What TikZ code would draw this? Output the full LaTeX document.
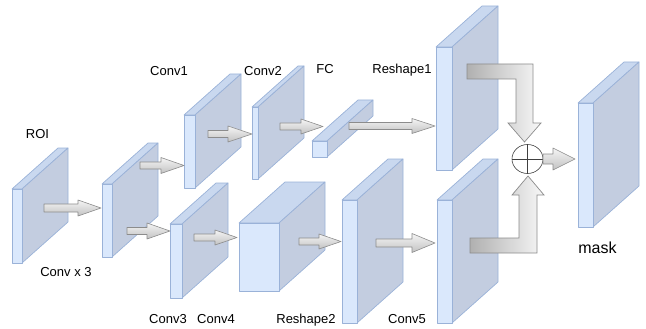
\documentclass[tikz,border=0pt]{standalone}
\usepackage{fontspec}
\setmainfont{Liberation Sans}
\usetikzlibrary{calc}

\definecolor{frontc}{HTML}{DAE8FC}
\definecolor{topc}{HTML}{C9D8EF}
\definecolor{sidec}{HTML}{C3CDE0}
\definecolor{edgec}{HTML}{9AB2D8}
\definecolor{arrowedge}{HTML}{8C8C8C}

\tikzset{
  face/.style={draw=edgec, line width=0.7pt, line join=round},
  smallarrow/.style={draw=arrowedge, line width=0.6pt, line join=round,
    top color=gray!8, bottom color=gray!48},
  bigarrow/.style={draw=arrowedge, line width=0.7pt, line join=miter,
    left color=gray!62, right color=gray!6},
  lbl/.style={anchor=base, inner sep=0pt, font=\fontsize{13}{15}\selectfont},
}

% cuboid: front face (x1,y1)-(x2,y2), depth goes 46 right and 41 up
\newcommand\cuboid[4]{%
  \filldraw[face, fill=topc] (#1,#2) -- (#1+46,#2-41) -- (#3+46,#2-41) -- (#3,#2) -- cycle;
  \filldraw[face, fill=sidec] (#3,#2) -- (#3+46,#2-41) -- (#3+46,#4-41) -- (#3,#4) -- cycle;
  \filldraw[face, fill=frontc] (#1,#2) rectangle (#3,#4);
}

% flat block arrow: tail x, head start x, tip x, centre y, shaft half, head half
\newcommand\flatarrow[6]{%
  \path[smallarrow] (#1,#4-#5) -- (#2,#4-#5) -- (#2,#4-#6) -- (#3,#4)
    -- (#2,#4+#6) -- (#2,#4+#5) -- (#1,#4+#5) -- cycle;
}

\begin{document}
\begin{tikzpicture}[x=1pt, y=-1pt]
\useasboundingbox (0,0) rectangle (646,329);

% feature maps
\cuboid{12}{189}{22}{263}    % ROI
\cuboid{102}{184}{112}{257}  % conv x 3
\cuboid{184}{115}{195}{188}  % conv1
\cuboid{252}{107}{258}{179}  % conv2
\cuboid{312}{141}{327}{157}  % fc
\cuboid{436}{47}{452}{170}   % reshape1
\cuboid{170}{224}{182}{298}  % conv3
\cuboid{239}{223}{279}{291}  % conv4
\cuboid{342}{200}{357}{323}  % reshape2
\cuboid{437}{200}{452}{323}  % conv5
\cuboid{578}{103}{593}{227}  % mask

% flow between maps
\flatarrow{44}{78}{101}{208}{4}{8}
\flatarrow{140}{161}{184}{165.5}{3.5}{8}
\flatarrow{127}{147}{170}{231}{3.5}{8}
\flatarrow{208}{228}{252}{134}{3.5}{8}
\flatarrow{280}{301}{323}{126.5}{3.5}{7.5}
\flatarrow{349}{412}{435}{126}{3.5}{7.5}
\flatarrow{194}{215}{237}{237.5}{3.5}{7.5}
\flatarrow{299}{319}{341}{241.5}{3.5}{7.5}
\flatarrow{376}{412}{435}{243}{4}{9.5}

% merge arrows into the sum node
\path[bigarrow] (467,64) -- (533,64) -- (533,123) -- (541,123) -- (524.5,142)
  -- (508,123) -- (516,123) -- (516,79) -- (467,79) -- cycle;
\path[bigarrow] (470,253) -- (537,253) -- (537,195) -- (544,195) -- (528,176)
  -- (512,195) -- (519,195) -- (519,238) -- (470,238) -- cycle;

% element-wise sum
\coordinate (sum) at (527.5,159);
\filldraw[draw=black!75, fill=white, line width=0.6pt] (sum) ellipse [x radius=15.5, y radius=14.5];
\draw[black!75, line width=0.6pt] ($(sum)+(-15.5,0)$) -- ($(sum)+(15.5,0)$)
  ($(sum)+(0,-14.5)$) -- ($(sum)+(0,14.5)$);
\flatarrow{543}{553}{575}{159}{5}{11}

% labels
\node[lbl] (tROI) at (37.5,139) {ROI};
\node[lbl] (tCx) at (66,276) {Conv x 3};
\node[lbl] (tC1) at (169,76) {Conv1};
\node[lbl] (tC2) at (263,76) {Conv2};
\node[lbl] (tFC) at (325,74) {FC};
\node[lbl] (tR1) at (402,74) {Reshape1};
\node[lbl] (tC3) at (168,323) {Conv3};
\node[lbl] (tC4) at (216,323) {Conv4};
\node[lbl] (tR2) at (306,323) {Reshape2};
\node[lbl] (tC5) at (407,323) {Conv5};
\node[lbl, font=\fontsize{16}{18}\selectfont] (tMask) at (597.5,253) {mask};
\end{tikzpicture}
\end{document}
